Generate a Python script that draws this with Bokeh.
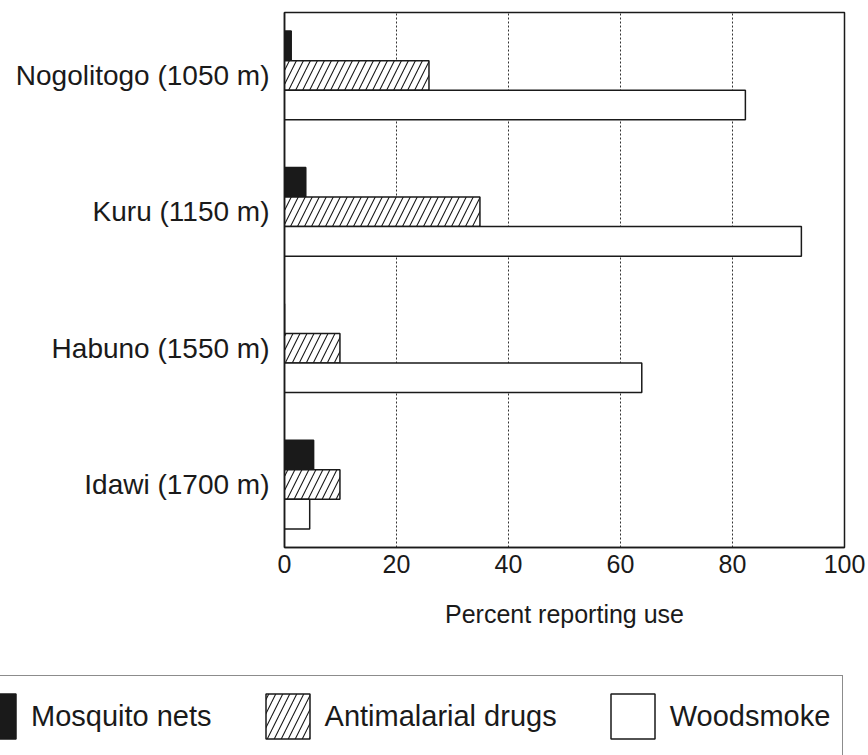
from bokeh.plotting import figure
from bokeh.models import (ColumnDataSource, FactorRange, Range1d, FixedTicker,
                          Legend, LegendItem)
from bokeh.transform import dodge
from bokeh.embed import file_html
from bokeh.resources import INLINE

# ---- data ----
villages = ["Nogolitogo (1050 m)", "Kuru (1150 m)", "Habuno (1550 m)", "Idawi (1700 m)"]
mosquito_nets = [1.2, 3.8, 0.0, 5.2]
antimalarial_drugs = [25.8, 34.9, 9.9, 9.9]
woodsmoke = [82.3, 92.3, 63.8, 4.5]
x_ticks = [0, 20, 40, 60, 80, 100]
series_labels = ["Mosquito nets", "Antimalarial drugs", "Woodsmoke"]

FONT = "Liberation Sans"
INK = "#1a1a1a"

source = ColumnDataSource(dict(village=villages, nets=mosquito_nets,
                               drugs=antimalarial_drugs, smoke=woodsmoke))

TOP_H = 665
p = figure(width=868, height=TOP_H, output_backend="svg", toolbar_location=None,
           y_range=FactorRange(factors=villages[::-1], range_padding=-0.019),
           x_range=Range1d(0, 100),
           min_border_left=284, min_border_right=24, min_border_top=12,
           min_border_bottom=TOP_H - 547)

bar_h = 0.217
nets_style = dict(fill_color=INK, line_color=INK, line_width=1.5)
drugs_style = dict(fill_color="white", hatch_pattern="/", hatch_color=INK,
                   hatch_scale=14, hatch_weight=1.1, line_color=INK, line_width=1.5)
smoke_style = dict(fill_color="white", line_color=INK, line_width=1.5)

p.hbar(y=dodge("village", bar_h, range=p.y_range), left=0, right="nets",
       height=bar_h, source=source, **nets_style)
p.hbar(y=dodge("village", 0, range=p.y_range), left=0, right="drugs",
       height=bar_h, source=source, **drugs_style)
p.hbar(y=dodge("village", -bar_h, range=p.y_range), left=0, right="smoke",
       height=bar_h, source=source, **smoke_style)

# frame / axes
p.outline_line_color = INK
p.outline_line_width = 1.5
p.background_fill_color = "white"
p.border_fill_color = "white"

p.xaxis.ticker = FixedTicker(ticks=x_ticks)
p.xaxis.axis_label = "Percent reporting use"
p.xaxis.axis_label_text_font = FONT
p.xaxis.axis_label_text_font_size = "25px"
p.xaxis.axis_label_text_font_style = "normal"
p.xaxis.axis_label_text_color = INK
p.xaxis.axis_label_standoff = 24
p.xaxis.major_label_text_font = FONT
p.xaxis.major_label_text_font_size = "25px"
p.xaxis.major_label_text_color = INK
p.xaxis.major_label_standoff = 1

p.yaxis.major_label_text_font = FONT
p.yaxis.major_label_text_font_size = "28px"
p.yaxis.major_label_text_color = INK
p.yaxis.major_label_standoff = 9

for ax in (p.xaxis, p.yaxis):
    ax.axis_line_color = INK
    ax.axis_line_width = 1.5
    ax.major_tick_line_color = None
    ax.minor_tick_line_color = None

p.ygrid.grid_line_color = None
p.xgrid.grid_line_color = "#333333"
p.xgrid.grid_line_dash = "2 2"
p.xgrid.grid_line_width = 1

# ---- legend strip (separate root below the chart) ----
BOT_H = 755 - TOP_H
lg = figure(width=868, height=BOT_H, output_backend="svg", toolbar_location=None,
            x_range=Range1d(-2, -1), y_range=Range1d(0, 1),
            x_axis_location=None, y_axis_location=None,
            min_border=0, min_border_left=0, min_border_right=0,
            min_border_top=0, min_border_bottom=0)
lg.grid.visible = False
lg.outline_line_color = None
lg.background_fill_color = "white"
lg.border_fill_color = "white"

# legend swatches reuse the series styles; the bars themselves fall outside this strip's ranges
d_nets = lg.hbar(y=-5, left=0, right="nets", height=0.1, source=source, **nets_style)
d_drugs = lg.hbar(y=-5, left=0, right="drugs", height=0.1, source=source, **drugs_style)
d_smoke = lg.hbar(y=-5, left=0, right="smoke", height=0.1, source=source, **smoke_style)

legend = Legend(items=[LegendItem(label=series_labels[0], renderers=[d_nets]),
                       LegendItem(label=series_labels[1], renderers=[d_drugs]),
                       LegendItem(label=series_labels[2], renderers=[d_smoke])],
                orientation="horizontal", location=(-47, -2),
                glyph_width=55, glyph_height=56, label_standoff=10,
                spacing=48, padding=12, margin=0,
                label_text_font=FONT, label_text_font_size="29px",
                label_text_color=INK,
                border_line_color=INK, border_line_width=1.5,
                background_fill_color="white", background_fill_alpha=1.0)
lg.add_layout(legend, "center")

open("out.html", "w").write(file_html([p, lg], INLINE))
